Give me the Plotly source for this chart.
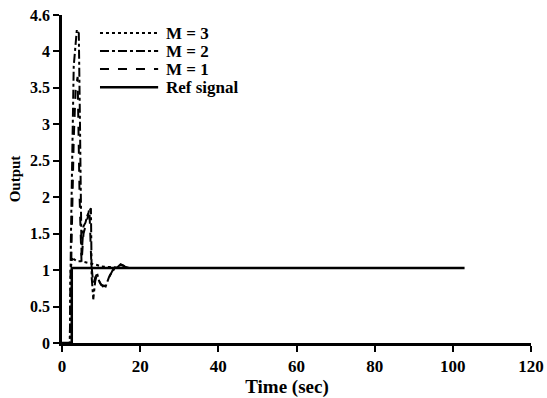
import plotly.graph_objects as go

# ---- data ----
t_ref = [0, 2.5, 2.5, 103]
y_ref = [0, 0, 1.03, 1.03]

t_m3 = [0, 2, 2.2, 2.6, 3, 4, 5, 6, 7, 8, 9, 10, 12, 14, 16, 18]
y_m3 = [0, 0, 1.0, 1.18, 1.15, 1.12, 1.12, 1.11, 1.1, 1.09, 1.07, 1.05, 1.04, 1.04, 1.03, 1.03]

t_m2 = [0, 2, 2.3, 3, 3.8, 4.3, 4.6, 5, 5.5, 6, 6.5, 7, 7.4, 7.6, 8, 8.5, 9, 9.5, 10, 11, 12, 13, 14, 15, 16, 17, 18]
y_m2 = [0, 0, 1.5, 3.8, 4.3, 4.25, 3.0, 1.2, 1.6, 1.65, 1.75, 1.8, 1.85, 0.9, 0.6, 0.85, 0.95, 0.85, 0.8, 0.75, 0.9, 1.0, 1.03, 1.08, 1.05, 1.03, 1.03]

t_m1 = [0, 2, 2.5, 3, 3.5, 4, 4.5, 5, 5.5, 6, 6.5, 7, 7.5, 8, 8.5, 9, 9.5, 10, 11, 12, 13, 14, 15, 16, 17]
y_m1 = [0, 0, 1.5, 2.8, 3.5, 3.65, 2.0, 1.1, 1.5, 1.6, 1.7, 1.85, 1.1, 0.8, 0.9, 0.95, 0.85, 0.8, 0.78, 0.9, 1.0, 1.05, 1.08, 1.05, 1.03]

series_names = ["M = 3", "M = 2", "M = 1", "Ref signal"]
series_dash = ["dot", "dashdot", "dash", "solid"]

x_ticks = [0, 20, 40, 60, 80, 100, 120]
y_tickvals = [0, 0.5, 1, 1.5, 2, 2.5, 3, 3.5, 4, 4.5]
y_ticktext = ["0", "0.5", "1", "1.5", "2", "2.5", "3", "3.5", "4", "4.6"]

FONT = "Liberation Serif"

fig = go.Figure()
series = [(t_m3, y_m3), (t_m2, y_m2), (t_m1, y_m1), (t_ref, y_ref)]
for (tx, ty), name, dash in zip(series, series_names, series_dash):
    fig.add_trace(go.Scatter(x=tx, y=ty, mode="lines", name=name, showlegend=False,
                             line=dict(color="black", width=2.5 if dash == "solid" else 2,
                                       dash=dash)))

# legend drawn compactly (paper coordinates of the plot area)
leg_x0, leg_x1, leg_tx = 0.081, 0.205, 0.218
leg_y0, leg_dy = 0.945, 0.055
for i, (name, dash) in enumerate(zip(series_names, series_dash)):
    yy = leg_y0 - i * leg_dy
    fig.add_shape(type="line", xref="paper", yref="paper",
                  x0=leg_x0, x1=leg_x1, y0=yy, y1=yy,
                  line=dict(color="black", width=2.5 if dash == "solid" else 2, dash=dash))
    fig.add_annotation(xref="paper", yref="paper", x=leg_tx, y=yy,
                       xanchor="left", yanchor="middle", showarrow=False,
                       text="<b>%s</b>" % name.replace(" ", "&nbsp;"),
                       font=dict(family=FONT, size=17, color="black"))

fig.update_layout(
    width=547, height=398,
    margin=dict(l=62, r=16, t=15, b=55),
    paper_bgcolor="white", plot_bgcolor="white",
    font=dict(family=FONT, size=16, color="black"),
    showlegend=False,
)
fig.update_xaxes(range=[0, 120], tickvals=x_ticks,
                 ticktext=["<b>%d</b>" % v for v in x_ticks],
                 showgrid=False, zeroline=False,
                 showline=True, linecolor="black", linewidth=2.5,
                 ticks="outside", ticklen=6, tickwidth=2, tickcolor="black",
                 automargin=False,
                 tickfont=dict(family=FONT, size=17, weight="bold"),
                 title=dict(text="<b>Time (sec)</b>" + "&nbsp;" * 4, standoff=4,
                            font=dict(family=FONT, size=19)))
fig.update_yaxes(range=[0, 4.5], tickvals=y_tickvals,
                 ticktext=["<b>%s</b>" % s for s in y_ticktext],
                 showgrid=False, zeroline=False,
                 showline=True, linecolor="black", linewidth=2.5,
                 ticks="outside", ticklen=6, tickwidth=2, tickcolor="black",
                 automargin=False,
                 tickfont=dict(family=FONT, size=16, weight="bold"),
                 title=dict(text="<b>Output</b>", standoff=6,
                            font=dict(family=FONT, size=15)))

fig.write_html("out.html")
